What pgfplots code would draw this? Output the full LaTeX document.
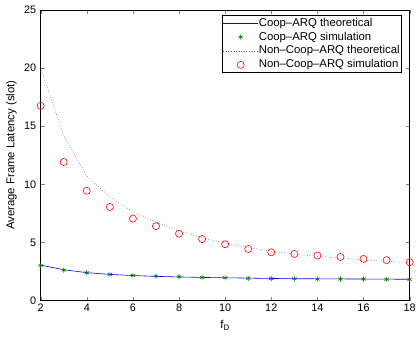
\documentclass[border=0pt]{standalone}
\usepackage{fontspec}
\setmainfont{Liberation Sans}
\usepackage{pgfplots}
\pgfplotsset{compat=1.18}
\begin{document}
\begin{tikzpicture}
\path (-41bp,-36bp) rectangle (378bp,303bp);
\begin{axis}[
  scale only axis,
  width=372bp, height=293bp,
  xmin=2, xmax=18, ymin=0, ymax=25,
  xtick={2,4,...,18}, ytick={0,5,...,25},
  tick align=inside, tick pos=both,
  major tick length=4bp,
  /pgf/number format/assume math mode=true,
  tick label style={font=\fontsize{11}{13}\selectfont},
  yticklabel style={xshift=-1bp},
  xticklabel style={yshift=0bp},
  xlabel={f$_{\mathrm{D}}$},
  ylabel={Average Frame Latency (slot)},
  label style={font=\fontsize{11.5}{13}\selectfont},
  xlabel style={yshift=-2bp},
  ylabel style={yshift=0.5bp},
  axis line style={line width=0.8pt},
  legend style={at={(0.978,0.983)}, anchor=north east, line width=0.8pt,
    font=\fontsize{11.5}{13}\selectfont, inner xsep=1pt, inner ysep=1pt,
    nodes={inner sep=0.5pt, text height=9.5bp, text depth=3.5bp},
    legend cell align=left},
  legend image code/.code={\draw[mark repeat=2,mark phase=2,#1] plot coordinates {(0bp,0bp) (17.5bp,0bp) (35bp,0bp)};},
  legend image post style={line width=0.6pt},
  /tikz/every odd column/.append style={xshift=0bp},
]
\addplot[draw=blue, line width=0.6pt] coordinates {
(2,3.05) (3,2.65) (4,2.40) (5,2.25) (6,2.15) (7,2.08) (8,2.03) (9,1.99) (10,1.96)
(11,1.93) (12,1.90) (13,1.88) (14,1.87) (15,1.86) (16,1.85) (17,1.84) (18,1.83)};
\addlegendentry{Coop--ARQ theoretical}
\addplot[only marks, mark=asterisk, mark size=2.6pt, draw={rgb,1:red,0;green,0.5;blue,0}, color={rgb,1:red,0;green,0.5;blue,0}, mark options={line width=0.6pt}] coordinates {
(2,3.01) (3,2.62) (4,2.39) (5,2.25) (6,2.16) (7,2.10) (8,2.05) (9,1.99) (10,1.96)
(11,1.91) (12,1.88) (13,1.88) (14,1.85) (15,1.85) (16,1.85) (17,1.82) (18,1.82)};
\addlegendentry{Coop--ARQ simulation}
\addplot[draw=black!65, dotted, line width=0.6pt] coordinates {
(2,20.0) (3,14.2) (4,10.7) (5,8.9) (6,7.65) (7,6.75) (8,6.0) (9,5.4) (10,4.95)
(11,4.55) (12,4.25) (13,4.0) (14,3.8) (15,3.65) (16,3.5) (17,3.38) (18,3.27)};
\addlegendentry{Non--Coop--ARQ theoretical}
\addplot[only marks, mark=o, mark size=3.6pt, draw=red, color=red, mark options={line width=0.6pt}] coordinates {
(2,16.75) (3,11.92) (4,9.44) (5,8.05) (6,7.05) (7,6.40) (8,5.75) (9,5.29) (10,4.84)
(11,4.44) (12,4.15) (13,4.01) (14,3.87) (15,3.75) (16,3.58) (17,3.47) (18,3.30)};
\addlegendentry{Non--Coop--ARQ simulation}
\end{axis}
\end{tikzpicture}
\end{document}
